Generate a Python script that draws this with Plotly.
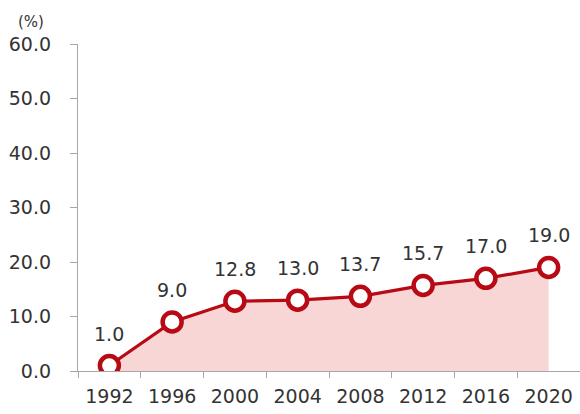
import plotly.graph_objects as go

years = ["1992", "1996", "2000", "2004", "2008", "2012", "2016", "2020"]
values = [1.0, 9.0, 12.8, 13.0, 13.7, 15.7, 17.0, 19.0]
y_ticks = [0, 10, 20, 30, 40, 50, 60]
y_tick_labels = ["0.0", "10.0", "20.0", "30.0", "40.0", "50.0", "60.0"]

RED = "#B80A14"
FONT = "DejaVu Sans"
TXT = "#333333"

fig = go.Figure()
fig.add_trace(go.Scatter(
    x=list(range(len(years))), y=values, mode="lines+markers",
    fill="tozeroy", fillcolor="#F9D6D6",
    line=dict(color=RED, width=3.2),
    marker=dict(size=19, color="white", line=dict(color=RED, width=4.5)),
    hoverinfo="skip", showlegend=False,
))

for i, v in enumerate(values):
    fig.add_annotation(x=i, y=v, xref="x", yref="y", text=f"{v:.1f}", showarrow=False,
                       yshift=32, font=dict(family=FONT, size=19, color=TXT))

fig.add_annotation(x=-0.094, y=1.067, xref="paper", yref="paper", text="(%)",
                   showarrow=False, xanchor="center", yanchor="middle",
                   font=dict(family=FONT, size=15, color=TXT))

fig.update_xaxes(
    range=[-0.5, 7.5], tickmode="array", tickvals=list(range(len(years))), ticktext=years,
    showline=True, linecolor="#A6A6A6", linewidth=1.3,
    ticks="", showgrid=False, zeroline=False,
    minor=dict(tickmode="array", tickvals=[i - 0.5 for i in range(len(years) + 1)],
               ticks="outside", ticklen=6, tickcolor="#A6A6A6", showgrid=False),
    ticklabelstandoff=8,
    tickfont=dict(family=FONT, size=19, color=TXT),
)
fig.update_yaxes(
    range=[0, 60], tickvals=y_ticks, ticktext=y_tick_labels,
    showline=True, linecolor="#A6A6A6", linewidth=1.3,
    ticks="outside", ticklen=7, tickcolor="#A6A6A6",
    showgrid=False, zeroline=False, ticklabelstandoff=15,
    tickfont=dict(family=FONT, size=19, color=TXT),
)
fig.update_layout(
    width=580, height=414, margin=dict(l=78, r=0, t=44, b=43),
    paper_bgcolor="white", plot_bgcolor="white",
)
fig.write_html("out.html")
